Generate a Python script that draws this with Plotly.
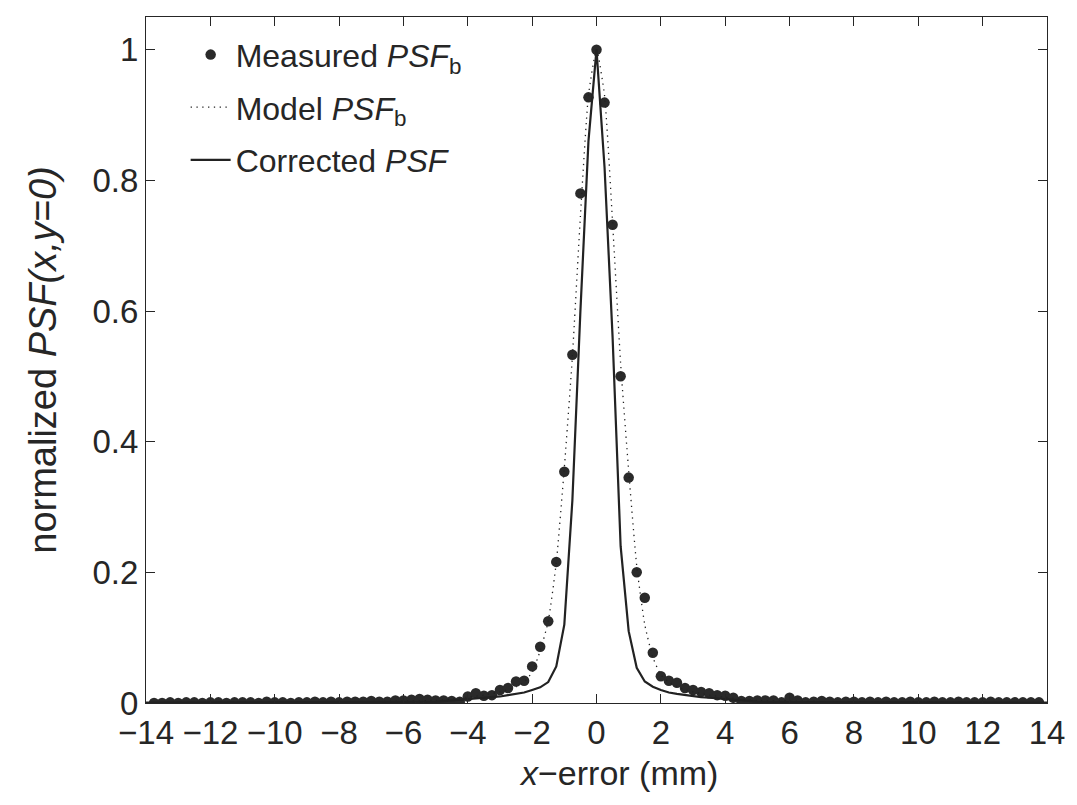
import plotly.graph_objects as go

# ---- Measured PSF_b (dots) ----
measured_x = [
    -13.75, -13.5, -13.25, -13.0, -12.75, -12.5, -12.25, -12.0, -11.75, -11.5,
    -11.25, -11.0, -10.75, -10.5, -10.25, -10.0, -9.75, -9.5, -9.25, -9.0,
    -8.75, -8.5, -8.25, -8.0, -7.75, -7.5, -7.25, -7.0, -6.75, -6.5,
    -6.25, -6.0, -5.75, -5.5, -5.25, -5.0, -4.75, -4.5, -4.25, -4.0,
    -3.75, -3.5, -3.25, -3.0, -2.75, -2.5, -2.25, -2.0, -1.75, -1.5,
    -1.25, -1.0, -0.75, -0.5, -0.25, 0.0, 0.25, 0.5, 0.75, 1.0,
    1.25, 1.5, 1.75, 2.0, 2.25, 2.5, 2.75, 3.0, 3.25, 3.5,
    3.75, 4.0, 4.25, 4.5, 4.75, 5.0, 5.25, 5.5, 5.75, 6.0,
    6.25, 6.5, 6.75, 7.0, 7.25, 7.5, 7.75, 8.0, 8.25, 8.5,
    8.75, 9.0, 9.25, 9.5, 9.75, 10.0, 10.25, 10.5, 10.75, 11.0,
    11.25, 11.5, 11.75, 12.0, 12.25, 12.5, 12.75, 13.0, 13.25, 13.5,
    13.75,
]
measured_y = [
    0.000, 0.000, 0.001, 0.000, 0.001, 0.001, 0.000, 0.001, 0.001, 0.000,
    0.001, 0.001, 0.001, 0.000, 0.002, 0.001, 0.001, 0.000, 0.001, 0.001,
    0.002, 0.001, 0.002, 0.001, 0.002, 0.002, 0.002, 0.003, 0.002, 0.002,
    0.004, 0.004, 0.005, 0.006, 0.005, 0.004, 0.004, 0.003, 0.002, 0.010,
    0.015, 0.011, 0.012, 0.020, 0.023, 0.033, 0.034, 0.056, 0.086, 0.125,
    0.216, 0.354, 0.533, 0.780, 0.927, 1.000, 0.919, 0.732, 0.500, 0.345,
    0.200, 0.161, 0.077, 0.041, 0.034, 0.031, 0.023, 0.020, 0.017, 0.015,
    0.012, 0.011, 0.008, 0.003, 0.003, 0.004, 0.004, 0.004, 0.001, 0.008,
    0.004, 0.001, 0.002, 0.003, 0.002, 0.001, 0.002, 0.002, 0.001, 0.002,
    0.001, 0.002, 0.001, 0.001, 0.002, 0.001, 0.001, 0.002, 0.001, 0.001,
    0.002, 0.001, 0.001, 0.001, 0.002, 0.001, 0.001, 0.001, 0.001, 0.001,
    0.001,
]

# ---- Model PSF_b (dotted) ----
model_x = [-14, -12, -10, -8, -6, -5, -4.5, -4, -3.5, -3, -2.75, -2.5, -2.25, -2,
           -1.75, -1.5, -1.25, -1, -0.75, -0.5, -0.25, 0,
           0.25, 0.5, 0.75, 1, 1.25, 1.5, 1.75, 2, 2.25, 2.5, 2.75, 3, 3.5, 4,
           4.5, 5, 6, 8, 10, 12, 14]
model_y = [0.0005, 0.0007, 0.001, 0.0015, 0.003, 0.004, 0.006, 0.009, 0.012, 0.017,
           0.020, 0.025, 0.032, 0.047, 0.080, 0.125, 0.215, 0.360, 0.530, 0.745,
           0.930, 1.000,
           0.930, 0.735, 0.520, 0.355, 0.210, 0.120, 0.070, 0.043, 0.032, 0.025,
           0.020, 0.017, 0.012, 0.009, 0.006, 0.004, 0.003, 0.0015, 0.001, 0.0007,
           0.0005]

# ---- Corrected PSF (solid) ----
corrected_x = [-14, -12, -10, -8, -6, -5, -4.75, -4.5, -4.25, -4, -3.75, -3.5, -3.25,
               -3, -2.75, -2.5, -2.25, -2, -1.75, -1.5, -1.25, -1, -0.75, -0.5,
               -0.25, 0, 0.25, 0.5, 0.75, 1, 1.25, 1.5, 1.75, 2, 2.25, 2.5, 2.75,
               3, 3.25, 3.5, 3.75, 4, 4.25, 4.5, 4.75, 5, 6, 8, 10, 12, 14]
corrected_y = [0.0005, 0.0006, 0.0008, 0.001, 0.0015, 0.002, 0.003, 0.004, 0.004,
               0.005, 0.006, 0.007, 0.008, 0.010, 0.012, 0.014, 0.016, 0.020, 0.024,
               0.032, 0.056, 0.120, 0.310, 0.600, 0.860, 1.000, 0.820, 0.560, 0.240,
               0.110, 0.054, 0.033, 0.025, 0.020, 0.016, 0.014, 0.012, 0.010, 0.009,
               0.008, 0.007, 0.006, 0.005, 0.004, 0.003, 0.002, 0.0015, 0.001,
               0.0008, 0.0006, 0.0005]

x_tick_vals = [-14, -12, -10, -8, -6, -4, -2, 0, 2, 4, 6, 8, 10, 12, 14]
x_tick_text = ["\u221214", "\u221212", "\u221210", "\u22128", "\u22126", "\u22124", "\u22122",
               "0", "2", "4", "6", "8", "10", "12", "14"]
y_tick_vals = [0, 0.2, 0.4, 0.6, 0.8, 1]
y_tick_text = ["0", "0.2", "0.4", "0.6", "0.8", "1"]

x_title = "<i>x</i>\u2212error (mm)"
y_title = "normalized <i>PSF(x,y=0)</i>"

INK = "#262626"
FONT = "Liberation Sans, Arial, Helvetica, sans-serif"

fig = go.Figure()
fig.add_trace(go.Scatter(
    x=measured_x, y=measured_y, mode="markers",
    marker=dict(size=10.5, color="#2a2a2a", line=dict(width=0)),
    name="Measured <i>PSF</i><sub>b</sub>", legendgroup="a",
))
fig.add_trace(go.Scatter(
    x=model_x, y=model_y, mode="lines",
    line=dict(color="#222222", width=1.3, dash="1.3px,4.5px", shape="spline", smoothing=0.5),
    name="Model <i>PSF</i><sub>b</sub>", legendgroup="b",
))
fig.add_trace(go.Scatter(
    x=corrected_x, y=corrected_y, mode="lines",
    line=dict(color="#222222", width=2.2),
    name="Corrected <i>PSF</i>", legendgroup="c",
))

axis_common = dict(
    showline=True, linecolor=INK, linewidth=1, mirror="allticks",
    ticks="inside", ticklen=9, tickcolor=INK, tickwidth=1,
    showgrid=False, zeroline=False,
    tickfont=dict(family=FONT, size=33, color=INK),
)

fig.update_layout(
    width=1077, height=805,
    margin=dict(l=146, r=27, t=17, b=102),
    paper_bgcolor="white", plot_bgcolor="white",
    font=dict(family=FONT, color=INK, size=32),
    xaxis=dict(range=[-14, 14], tickvals=x_tick_vals, ticktext=x_tick_text,
               **axis_common),
    yaxis=dict(range=[0, 1.05], tickvals=y_tick_vals, ticktext=y_tick_text,
               title=dict(text=y_title,
                          font=dict(family=FONT, size=38, color=INK), standoff=24),
               **axis_common),
    legend=dict(x=0.044, y=0.985, xanchor="left", yanchor="top",
                bgcolor="rgba(0,0,0,0)", borderwidth=0,
                font=dict(family=FONT, size=32, color=INK),
                tracegroupgap=8, itemwidth=40),
    showlegend=True,
    annotations=[dict(
        text=x_title, xref="paper", yref="paper",
        x=(620 - 146) / 904, y=-70 / 685, xanchor="center", yanchor="middle",
        showarrow=False, font=dict(family=FONT, size=34, color=INK),
    )],
)

fig.write_html("out.html")
